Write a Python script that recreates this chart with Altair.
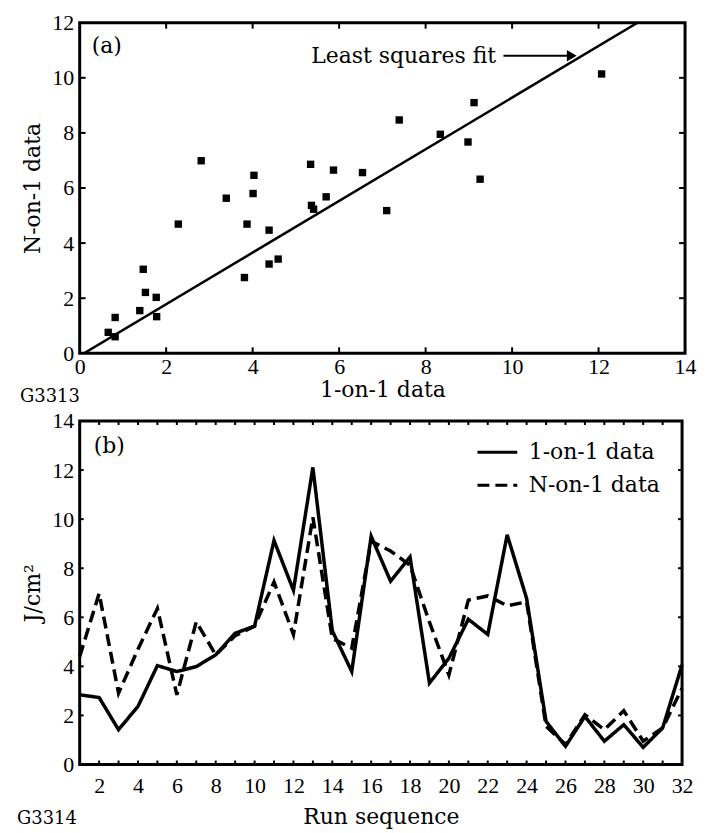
import altair as alt
import pandas as pd

# ---------------- panel (a) data ----------------
one_on_one = [0.66, 0.82, 0.82, 1.39, 1.47, 1.52, 1.77, 1.78, 2.28, 2.81, 3.39,
              3.81, 3.87, 4.01, 4.03, 4.38, 4.38, 4.59, 5.34, 5.36, 5.41, 5.70,
              5.87, 6.54, 7.10, 7.39, 8.34, 8.98, 9.12, 9.26, 12.07]
n_on_one = [0.76, 0.60, 1.30, 1.55, 3.05, 2.21, 2.03, 1.33, 4.69, 6.99, 5.63,
            2.75, 4.69, 5.80, 6.46, 4.47, 3.24, 3.42, 6.86, 5.37, 5.23, 5.68,
            6.65, 6.56, 5.18, 8.47, 7.95, 7.67, 9.10, 6.32, 10.14]
fit_x = [0.1, 12.9]
fit_y = [0.0, 12.0]
fit_label = ["Least squares fit"]
fit_label_x = [9.63]
fit_label_y = [10.8]
arrow_from = [9.8]
arrow_to = [11.3]
arrow_tip = [11.38]
arrow_y = [10.8]
x_labels_a = [0, 2, 4, 6, 8, 10, 12, 14]
y_labels_a = [0, 2, 4, 6, 8, 10, 12]
x_ticks_a = [2, 4, 6, 8, 10, 12]
y_ticks_a = [2, 4, 6, 8, 10]

# ---------------- panel (b) data ----------------
runs = list(range(1, 33))
series_names = ["1-on-1 data", "N-on-1 data"]
solid = [2.84, 2.73, 1.42, 2.37, 4.03, 3.79, 3.99, 4.47, 5.35, 5.64, 9.13,
         7.10, 12.11, 5.45, 3.79, 9.30, 7.47, 8.46, 3.32, 4.33, 5.92, 5.30,
         9.36, 6.77, 1.76, 0.74, 1.96, 0.95, 1.62, 0.70, 1.49, 4.06]
dashed = [4.40, 6.97, 2.91, 4.70, 6.36, 2.84, 5.82, 4.47, 5.25, 5.64, 7.44,
          5.30, 10.08, 5.14, 4.74, 9.10, 8.70, 8.12, 5.80, 3.65, 6.70, 6.87,
          6.47, 6.63, 1.56, 0.81, 2.03, 1.42, 2.19, 0.95, 1.49, 3.11]
x_labels_b = list(range(2, 33, 2))
y_labels_b = list(range(0, 15, 2))
x_ticks_b = list(range(2, 32))
y_ticks_b = [2, 4, 6, 8, 10, 12]

FONT = "DejaVu Serif"
NUMFONT = "Liberation Serif"
W1, H1 = 608, 332
W2, H2 = 605, 345

# ---------------- panel (a) ----------------
scatter_df = pd.DataFrame({"x": one_on_one, "y": n_on_one})
fit_df = pd.DataFrame({"x": fit_x, "y": fit_y})

xa = alt.X("x:Q", scale=alt.Scale(domain=[0, 14], nice=False),
           axis=alt.Axis(values=x_labels_a, title="1-on-1 data",
                         labelPadding=3, titlePadding=2))
ya = alt.Y("y:Q", scale=alt.Scale(domain=[0, 12], nice=False),
           axis=alt.Axis(values=y_labels_a, title="N-on-1 data",
                         labelPadding=6, titlePadding=7))

pts = alt.Chart(scatter_df).mark_square(size=55, color="black", opacity=1).encode(x=xa, y=ya)
fit = alt.Chart(fit_df).mark_line(color="black", strokeWidth=2.5, clip=True).encode(
    x="x:Q", y="y:Q")

arrow_df = pd.DataFrame({"x": arrow_from, "x2": arrow_to, "y": arrow_y})
arrow = alt.Chart(arrow_df).mark_rule(color="black", strokeWidth=2).encode(
    x="x:Q", x2="x2:Q", y="y:Q")
head_df = pd.DataFrame({"x": arrow_tip, "y": arrow_y})
head = alt.Chart(head_df).mark_point(shape="triangle-right", filled=True, size=130,
                                     color="black", opacity=1).encode(x="x:Q", y="y:Q")
lab_df = pd.DataFrame({"x": fit_label_x, "y": fit_label_y, "t": fit_label})
lab = alt.Chart(lab_df).mark_text(align="right", baseline="middle", font=FONT,
                                  fontSize=22, color="black").encode(
    x="x:Q", y="y:Q", text="t:N")


def edge_ticks(xs, ys, W, H, L, sw):
    dx = pd.DataFrame({"t": xs})
    dy = pd.DataFrame({"t": ys})
    r = dict(color="black", strokeWidth=sw)
    return [
        alt.Chart(dx).mark_rule(**r).encode(x="t:Q", y=alt.value(H), y2=alt.value(H - L)),
        alt.Chart(dx).mark_rule(**r).encode(x="t:Q", y=alt.value(0), y2=alt.value(L)),
        alt.Chart(dy).mark_rule(**r).encode(y="t:Q", x=alt.value(0), x2=alt.value(L)),
        alt.Chart(dy).mark_rule(**r).encode(y="t:Q", x=alt.value(W), x2=alt.value(W - L)),
    ]


tag_a = alt.Chart(pd.DataFrame({"t": ["(a)"]})).mark_text(
    align="left", baseline="middle", font=FONT, fontSize=22, color="black").encode(
    text="t:N", x=alt.value(12), y=alt.value(23))
code_a = alt.Chart(pd.DataFrame({"t": ["G3313"]})).mark_text(
    align="left", baseline="alphabetic", font=FONT, fontSize=18, color="black").encode(
    text="t:N", x=alt.value(-60), y=alt.value(381))

top = alt.layer(pts, fit, arrow, head, lab, *edge_ticks(x_ticks_a, y_ticks_a, W1, H1, 6, 2),
                tag_a, code_a).properties(width=W1, height=H1)

# ---------------- panel (b) ----------------
rows = []
for r, s, d in zip(runs, solid, dashed):
    rows.append({"run": r, "value": s, "series": series_names[0]})
    rows.append({"run": r, "value": d, "series": series_names[1]})
lines_df = pd.DataFrame(rows)

lines = alt.Chart(lines_df).mark_line(color="black", strokeWidth=3.5).encode(
    x=alt.X("run:Q", scale=alt.Scale(domain=[1, 32], nice=False),
            axis=alt.Axis(values=x_labels_b, title="Run sequence",
                          labelPadding=11, titlePadding=10,
                          labelOverlap=False, labelBound=False)),
    y=alt.Y("value:Q", scale=alt.Scale(domain=[0, 14], nice=False),
            axis=alt.Axis(values=y_labels_b, title="J/cm²",
                          labelPadding=6, titlePadding=7)),
    strokeDash=alt.StrokeDash("series:N",
                              scale=alt.Scale(domain=series_names, range=[[1, 0], [12, 6]]),
                              legend=alt.Legend(title=None, orient="none", legendX=398,
                                                legendY=10, symbolType="stroke",
                                                symbolSize=1600, symbolStrokeWidth=3,
                                                symbolStrokeColor="black",
                                                labelFont=FONT, labelFontSize=22,
                                                labelColor="black", labelOffset=10,
                                                rowPadding=0)),
    detail="series:N",
)

tag_b = alt.Chart(pd.DataFrame({"t": ["(b)"]})).mark_text(
    align="left", baseline="middle", font=FONT, fontSize=22, color="black").encode(
    text="t:N", x=alt.value(14), y=alt.value(25))
code_b = alt.Chart(pd.DataFrame({"t": ["G3314"]})).mark_text(
    align="left", baseline="alphabetic", font=FONT, fontSize=18, color="black").encode(
    text="t:N", x=alt.value(-63), y=alt.value(405))

bottom = alt.layer(lines, *edge_ticks(x_ticks_b, y_ticks_b, W2, H2, 4, 2),
                   tag_b, code_b).properties(width=W2, height=H2)

chart = alt.vconcat(top, bottom, spacing=0).resolve_legend(
    strokeDash="independent"
).properties(
    padding={"left": 7, "top": 0, "right": 0, "bottom": 0}
).configure_view(stroke="black", strokeWidth=3).configure_axis(
    domain=False, grid=False, ticks=False, tickSize=0, labelFlush=False,
    labelFont=NUMFONT, labelFontSize=22, labelColor="black",
    titleFont=FONT, titleFontSize=22, titleFontWeight="normal", titleColor="black"
)

chart.save("out.html", embed_options={"renderer": "svg", "actions": False})
